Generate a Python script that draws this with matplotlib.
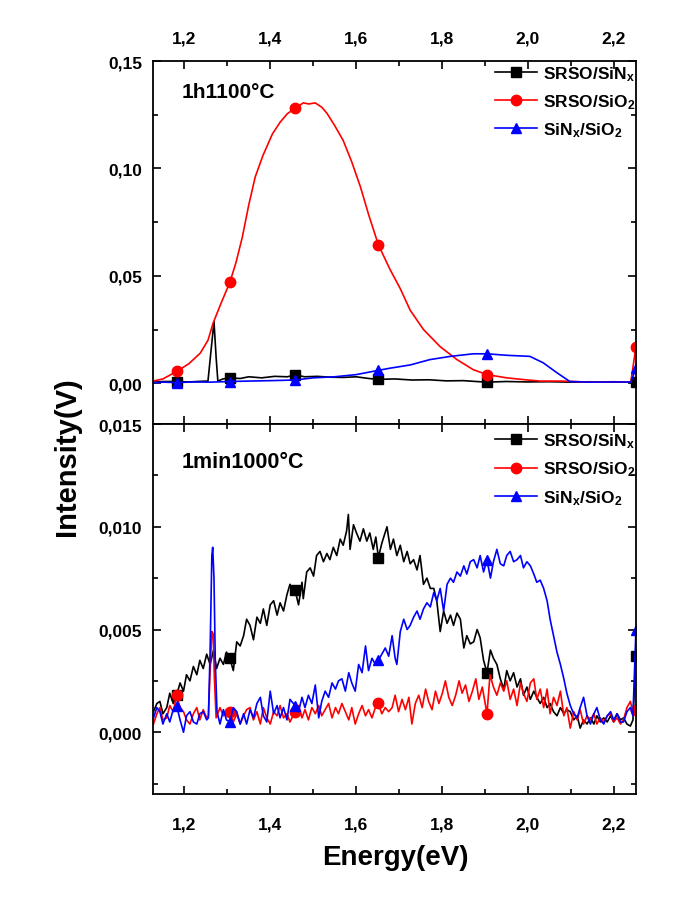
import numpy as np
import matplotlib
matplotlib.use("Agg")
import matplotlib.pyplot as plt
from matplotlib.ticker import MultipleLocator, FuncFormatter

plt.rcParams['font.family'] = ['Liberation Sans', 'DejaVu Sans']
plt.rcParams['font.weight'] = 'bold'
plt.rcParams['mathtext.fontset'] = 'custom'
plt.rcParams['mathtext.rm'] = 'Liberation Sans:bold'
plt.rcParams['mathtext.it'] = 'Liberation Sans:bold'
plt.rcParams['mathtext.bf'] = 'Liberation Sans:bold'

# ---- data ----
labels = ['SRSO/SiN$_\\mathrm{x}$', 'SRSO/SiO$_\\mathrm{2}$', 'SiN$_\\mathrm{x}$/SiO$_\\mathrm{2}$']
colors = ['black', 'red', 'blue']
markers = ['s', 'o', '^']
marker_E = [1.182, 1.306, 1.458, 1.652, 1.905, 2.252]

# 1h 1100 C (upper panel)
red_1h = [(1.127, 0.0010), (1.150, 0.0020), (1.182, 0.0055), (1.210, 0.0090), (1.237, 0.0140),
          (1.255, 0.0200), (1.267, 0.0280), (1.285, 0.0370), (1.306, 0.0470), (1.320, 0.0560),
          (1.335, 0.0680), (1.350, 0.0830), (1.365, 0.0960), (1.383, 0.1060), (1.405, 0.1160),
          (1.423, 0.1215), (1.440, 0.1255), (1.458, 0.1280), (1.477, 0.1305), (1.490, 0.1300),
          (1.505, 0.1305), (1.520, 0.1285), (1.532, 0.1257), (1.550, 0.1200), (1.570, 0.1130),
          (1.590, 0.1030), (1.610, 0.0915), (1.630, 0.0780), (1.652, 0.0644), (1.679, 0.0530),
          (1.703, 0.0440), (1.726, 0.0340), (1.757, 0.0250), (1.796, 0.0170), (1.835, 0.0110),
          (1.873, 0.0063), (1.905, 0.0040), (1.951, 0.0025), (2.000, 0.0015), (2.029, 0.0010),
          (2.080, 0.0010), (2.146, 0.0005), (2.200, 0.0007), (2.240, 0.0005), (2.252, 0.0170)]
blk_1h = [(1.127, 0.0005), (1.150, 0.0008), (1.182, 0.0008), (1.210, 0.0006), (1.240, 0.0009),
          (1.255, 0.0010), (1.262, 0.0150), (1.269, 0.0287), (1.274, 0.0120), (1.278, 0.0010),
          (1.290, 0.0020), (1.306, 0.0025), (1.330, 0.0022), (1.350, 0.0030), (1.380, 0.0025),
          (1.410, 0.0032), (1.440, 0.0030), (1.458, 0.0039), (1.480, 0.0030), (1.510, 0.0032),
          (1.540, 0.0028), (1.570, 0.0027), (1.600, 0.0030), (1.630, 0.0022), (1.652, 0.0018),
          (1.690, 0.0020), (1.730, 0.0015), (1.770, 0.0016), (1.810, 0.0011), (1.850, 0.0012),
          (1.880, 0.0008), (1.905, 0.0005), (1.950, 0.0008), (2.000, 0.0006), (2.050, 0.0007),
          (2.100, 0.0005), (2.150, 0.0006), (2.200, 0.0005), (2.252, 0.0005)]
blu_1h = [(1.127, 0.0002), (1.150, 0.0005), (1.182, 0.0003), (1.220, 0.0006), (1.260, 0.0005),
          (1.306, 0.0008), (1.350, 0.0010), (1.400, 0.0012), (1.458, 0.0015), (1.500, 0.0025),
          (1.550, 0.0030), (1.600, 0.0040), (1.652, 0.0060), (1.679, 0.0070), (1.726, 0.0085),
          (1.772, 0.0110), (1.820, 0.0125), (1.873, 0.0137), (1.905, 0.0137), (1.951, 0.0130),
          (2.005, 0.0125), (2.036, 0.0095), (2.067, 0.0050), (2.098, 0.0008), (2.146, 0.0005),
          (2.200, 0.0006), (2.240, 0.0005), (2.252, 0.0070)]

# 1 min 1000 C (lower panel)
blk_1min = [(1.128, 0.0010), (1.136, 0.0014), (1.143, 0.0015), (1.150, 0.0009), (1.159, 0.0012),
            (1.166, 0.0019), (1.174, 0.0014), (1.182, 0.0018), (1.190, 0.0024), (1.198, 0.0020),
            (1.205, 0.0028), (1.213, 0.0025), (1.221, 0.0032), (1.229, 0.0028), (1.236, 0.0035),
            (1.244, 0.0031), (1.252, 0.0038), (1.260, 0.0033), (1.268, 0.0040), (1.275, 0.0031),
            (1.283, 0.0036), (1.291, 0.0033), (1.298, 0.0039), (1.306, 0.0036), (1.314, 0.0030),
            (1.322, 0.0044), (1.330, 0.0042), (1.338, 0.0047), (1.345, 0.0055), (1.353, 0.0052),
            (1.361, 0.0045), (1.369, 0.0056), (1.377, 0.0053), (1.384, 0.0060), (1.392, 0.0052),
            (1.400, 0.0062), (1.408, 0.0064), (1.416, 0.0057), (1.423, 0.0063), (1.431, 0.0059),
            (1.439, 0.0067), (1.446, 0.0072), (1.454, 0.0068), (1.458, 0.0069), (1.466, 0.0062),
            (1.474, 0.0073), (1.477, 0.0065), (1.485, 0.0078), (1.493, 0.0080), (1.501, 0.0076),
            (1.508, 0.0086), (1.516, 0.0088), (1.524, 0.0083), (1.532, 0.0087), (1.539, 0.0084),
            (1.547, 0.0090), (1.555, 0.0086), (1.563, 0.0094), (1.570, 0.0091), (1.578, 0.0098),
            (1.582, 0.0106), (1.586, 0.0089), (1.594, 0.0101), (1.601, 0.0097), (1.609, 0.0093),
            (1.617, 0.0099), (1.625, 0.0093), (1.632, 0.0097), (1.640, 0.0089), (1.646, 0.0095),
            (1.652, 0.0085), (1.660, 0.0092), (1.672, 0.0100), (1.680, 0.0089), (1.687, 0.0094),
            (1.695, 0.0086), (1.703, 0.0091), (1.711, 0.0083), (1.719, 0.0088), (1.726, 0.0082),
            (1.734, 0.0084), (1.742, 0.0079), (1.749, 0.0086), (1.757, 0.0072), (1.765, 0.0075),
            (1.773, 0.0070), (1.781, 0.0070), (1.788, 0.0064), (1.796, 0.0049), (1.804, 0.0059),
            (1.812, 0.0053), (1.820, 0.0057), (1.827, 0.0052), (1.835, 0.0058), (1.843, 0.0055),
            (1.851, 0.0041), (1.858, 0.0047), (1.866, 0.0043), (1.874, 0.0044), (1.882, 0.0050),
            (1.889, 0.0046), (1.897, 0.0035), (1.905, 0.0029), (1.913, 0.0040), (1.920, 0.0036),
            (1.928, 0.0033), (1.936, 0.0026), (1.944, 0.0021), (1.951, 0.0030), (1.959, 0.0025),
            (1.967, 0.0029), (1.975, 0.0022), (1.983, 0.0026), (1.990, 0.0018), (1.998, 0.0022),
            (2.006, 0.0016), (2.014, 0.0020), (2.021, 0.0017), (2.029, 0.0014), (2.037, 0.0017),
            (2.045, 0.0012), (2.052, 0.0014), (2.060, 0.0010), (2.068, 0.0008), (2.076, 0.0012),
            (2.084, 0.0009), (2.091, 0.0011), (2.099, 0.0010), (2.107, 0.0006), (2.115, 0.0008),
            (2.122, 0.0002), (2.130, 0.0006), (2.138, 0.0004), (2.146, 0.0007), (2.154, 0.0004),
            (2.161, 0.0008), (2.169, 0.0005), (2.177, 0.0007), (2.185, 0.0005), (2.193, 0.0008),
            (2.200, 0.0005), (2.208, 0.0009), (2.216, 0.0006), (2.223, 0.0007), (2.231, 0.0004),
            (2.239, 0.0003), (2.245, 0.0006), (2.252, 0.0037)]
red_1min = [(1.128, 0.0004), (1.136, 0.0009), (1.143, 0.0012), (1.150, 0.0006), (1.159, 0.0007),
            (1.166, 0.0013), (1.174, 0.0010), (1.182, 0.0018), (1.190, 0.0012), (1.198, 0.0010),
            (1.205, 0.0006), (1.213, 0.0004), (1.221, 0.0009), (1.229, 0.0012), (1.236, 0.0006),
            (1.244, 0.0011), (1.252, 0.0007), (1.256, 0.0008), (1.260, 0.0030), (1.264, 0.0049),
            (1.267, 0.0048), (1.270, 0.0026), (1.274, 0.0007), (1.283, 0.0012), (1.291, 0.0008),
            (1.298, 0.0011), (1.306, 0.0010), (1.314, 0.0005), (1.322, 0.0009), (1.330, 0.0004),
            (1.338, 0.0008), (1.345, 0.0011), (1.353, 0.0012), (1.361, 0.0006), (1.369, 0.0010),
            (1.377, 0.0004), (1.384, 0.0012), (1.392, 0.0007), (1.400, 0.0004), (1.408, 0.0010),
            (1.416, 0.0008), (1.423, 0.0013), (1.431, 0.0007), (1.439, 0.0009), (1.446, 0.0005),
            (1.458, 0.0010), (1.466, 0.0013), (1.474, 0.0007), (1.481, 0.0011), (1.489, 0.0006),
            (1.497, 0.0012), (1.505, 0.0009), (1.513, 0.0013), (1.520, 0.0008), (1.528, 0.0011),
            (1.536, 0.0014), (1.544, 0.0007), (1.552, 0.0012), (1.559, 0.0009), (1.567, 0.0014),
            (1.575, 0.0010), (1.583, 0.0006), (1.590, 0.0012), (1.598, 0.0004), (1.606, 0.0009),
            (1.614, 0.0013), (1.622, 0.0008), (1.629, 0.0011), (1.637, 0.0007), (1.645, 0.0012),
            (1.652, 0.0014), (1.660, 0.0009), (1.668, 0.0012), (1.676, 0.0010), (1.684, 0.0012),
            (1.691, 0.0018), (1.699, 0.0010), (1.707, 0.0016), (1.715, 0.0011), (1.723, 0.0017),
            (1.730, 0.0004), (1.738, 0.0014), (1.746, 0.0018), (1.754, 0.0012), (1.762, 0.0021),
            (1.769, 0.0015), (1.777, 0.0011), (1.785, 0.0020), (1.793, 0.0014), (1.801, 0.0019),
            (1.808, 0.0025), (1.816, 0.0017), (1.824, 0.0013), (1.832, 0.0018), (1.840, 0.0025),
            (1.847, 0.0019), (1.855, 0.0023), (1.863, 0.0015), (1.871, 0.0020), (1.879, 0.0026),
            (1.886, 0.0016), (1.894, 0.0022), (1.905, 0.0009), (1.912, 0.0028), (1.920, 0.0022),
            (1.928, 0.0018), (1.936, 0.0024), (1.944, 0.0020), (1.951, 0.0025), (1.959, 0.0016),
            (1.967, 0.0021), (1.975, 0.0013), (1.983, 0.0024), (1.990, 0.0019), (1.998, 0.0015),
            (2.006, 0.0024), (2.014, 0.0026), (2.021, 0.0016), (2.029, 0.0021), (2.037, 0.0012),
            (2.045, 0.0021), (2.052, 0.0009), (2.060, 0.0017), (2.068, 0.0013), (2.076, 0.0020),
            (2.084, 0.0008), (2.091, 0.0012), (2.099, 0.0002), (2.107, 0.0010), (2.115, 0.0006),
            (2.122, 0.0011), (2.130, 0.0004), (2.138, 0.0008), (2.146, 0.0006), (2.154, 0.0009),
            (2.161, 0.0004), (2.169, 0.0007), (2.177, 0.0005), (2.185, 0.0008), (2.193, 0.0009),
            (2.200, 0.0005), (2.208, 0.0007), (2.216, 0.0004), (2.223, 0.0006), (2.231, 0.0012),
            (2.239, 0.0015), (2.245, 0.0010), (2.252, 0.0011)]
blu_1min = [(1.128, 0.0007), (1.136, 0.0012), (1.143, 0.0010), (1.150, 0.0004), (1.159, 0.0009),
            (1.166, 0.0005), (1.174, 0.0011), (1.182, 0.0013), (1.190, 0.0006), (1.198, 0.0000),
            (1.205, 0.0008), (1.213, 0.0010), (1.221, 0.0005), (1.229, 0.0004), (1.236, 0.0009),
            (1.244, 0.0010), (1.252, 0.0006), (1.256, 0.0007), (1.260, 0.0040), (1.264, 0.0086),
            (1.266, 0.0090), (1.269, 0.0075), (1.272, 0.0035), (1.276, 0.0010), (1.283, 0.0004),
            (1.291, 0.0011), (1.298, 0.0006), (1.306, 0.0005), (1.314, 0.0012), (1.322, 0.0010),
            (1.330, 0.0004), (1.338, 0.0009), (1.345, 0.0004), (1.353, 0.0011), (1.361, 0.0007),
            (1.369, 0.0014), (1.377, 0.0017), (1.384, 0.0008), (1.392, 0.0005), (1.400, 0.0020),
            (1.408, 0.0009), (1.416, 0.0013), (1.423, 0.0007), (1.431, 0.0012), (1.439, 0.0006),
            (1.446, 0.0016), (1.458, 0.0013), (1.466, 0.0010), (1.474, 0.0017), (1.481, 0.0012),
            (1.489, 0.0018), (1.497, 0.0014), (1.505, 0.0023), (1.513, 0.0007), (1.520, 0.0015),
            (1.528, 0.0020), (1.536, 0.0017), (1.544, 0.0024), (1.552, 0.0021), (1.559, 0.0025),
            (1.567, 0.0026), (1.575, 0.0020), (1.583, 0.0029), (1.590, 0.0024), (1.598, 0.0020),
            (1.606, 0.0033), (1.614, 0.0029), (1.622, 0.0042), (1.629, 0.0030), (1.637, 0.0036),
            (1.645, 0.0033), (1.652, 0.0035), (1.660, 0.0038), (1.668, 0.0041), (1.676, 0.0037),
            (1.684, 0.0047), (1.691, 0.0036), (1.695, 0.0033), (1.703, 0.0049), (1.711, 0.0055),
            (1.719, 0.0050), (1.726, 0.0052), (1.734, 0.0056), (1.742, 0.0059), (1.749, 0.0055),
            (1.757, 0.0060), (1.765, 0.0063), (1.773, 0.0061), (1.781, 0.0068), (1.788, 0.0064),
            (1.796, 0.0070), (1.804, 0.0059), (1.812, 0.0072), (1.820, 0.0075), (1.827, 0.0073),
            (1.835, 0.0078), (1.843, 0.0076), (1.851, 0.0081), (1.858, 0.0077), (1.866, 0.0083),
            (1.874, 0.0084), (1.882, 0.0080), (1.889, 0.0086), (1.897, 0.0078), (1.905, 0.0084),
            (1.913, 0.0075), (1.920, 0.0083), (1.928, 0.0089), (1.936, 0.0082), (1.944, 0.0081),
            (1.951, 0.0086), (1.959, 0.0088), (1.967, 0.0083), (1.975, 0.0084), (1.983, 0.0086),
            (1.990, 0.0080), (1.998, 0.0083), (2.006, 0.0081), (2.014, 0.0077), (2.021, 0.0073),
            (2.029, 0.0074), (2.037, 0.0070), (2.045, 0.0064), (2.052, 0.0055), (2.060, 0.0047),
            (2.068, 0.0039), (2.076, 0.0033), (2.084, 0.0026), (2.091, 0.0019), (2.099, 0.0013),
            (2.107, 0.0009), (2.115, 0.0007), (2.122, 0.0012), (2.130, 0.0017), (2.138, 0.0008),
            (2.146, 0.0004), (2.154, 0.0009), (2.161, 0.0012), (2.169, 0.0006), (2.177, 0.0004),
            (2.185, 0.0008), (2.193, 0.0010), (2.200, 0.0006), (2.208, 0.0009), (2.216, 0.0005),
            (2.223, 0.0005), (2.231, 0.0010), (2.239, 0.0012), (2.245, 0.0008), (2.252, 0.0050)]

top_series = [blk_1h, red_1h, blu_1h]
bot_series = [blk_1min, red_1min, blu_1min]


def draw(ax, series):
    for pts, c, m, lab in zip(series, colors, markers, labels):
        e, v = np.array(pts).T
        idx = [int(np.argmin(np.abs(e - me))) for me in marker_E]
        ax.plot(e, v, color=c, lw=1.2, marker=m, ms=7.5, markevery=idx,
                label=lab, clip_on=True)


def comma(fmt):
    return FuncFormatter(lambda v, p: (fmt % v).replace('.', ','))


fig = plt.figure(figsize=(6.85, 9.2), dpi=100)
ax1 = fig.add_axes([0.2234, 0.538, 0.705, 0.3946])
ax2 = fig.add_axes([0.2234, 0.136, 0.705, 0.402])

draw(ax1, top_series)
draw(ax2, bot_series)

for ax in (ax1, ax2):
    ax.set_xlim(1.127, 2.252)
    ax.xaxis.set_major_locator(MultipleLocator(0.2))
    ax.xaxis.set_minor_locator(MultipleLocator(0.1))
    ax.xaxis.set_major_formatter(comma('%.1f'))
    ax.tick_params(which='both', direction='in', top=True, right=True,
                   labelsize=12.5, width=1.2, pad=8)
    ax.tick_params(which='major', length=6)
    ax.tick_params(which='minor', length=3.5)
    for s in ax.spines.values():
        s.set_linewidth(1.3)
    for t in ax.get_xticklabels() + ax.get_yticklabels():
        t.set_fontweight('bold')

ax1.set_ylim(-0.019, 0.15)
ax1.yaxis.set_major_locator(MultipleLocator(0.05))
ax1.yaxis.set_minor_locator(MultipleLocator(0.025))
ax1.yaxis.set_major_formatter(comma('%.2f'))
ax1.tick_params(labelbottom=False, labeltop=True)
ax1.tick_params(axis='x', pad=11)

ax2.set_ylim(-0.003, 0.015)
ax2.yaxis.set_major_locator(MultipleLocator(0.005))
ax2.yaxis.set_minor_locator(MultipleLocator(0.0025))
ax2.yaxis.set_major_formatter(comma('%.3f'))
ax2.tick_params(axis='x', pad=16)

ax1.text(0.06, 0.915, '1h1100°C', transform=ax1.transAxes, fontsize=15,
         fontweight='bold', va='center')
ax2.text(0.06, 0.90, '1min1000°C', transform=ax2.transAxes, fontsize=15.5,
         fontweight='bold', va='center')

leg_kw = dict(loc='upper left', frameon=False, fontsize=12.5, handlelength=2.4,
              handletextpad=0.35, labelspacing=0.55, borderpad=0, borderaxespad=0,
              numpoints=1)
ax1.legend(bbox_to_anchor=(0.708, 0.992), **leg_kw)
ax2.legend(bbox_to_anchor=(0.708, 0.98), **leg_kw)

fig.text(0.098, 0.504, 'Intensity(V)', rotation=90, ha='center', va='center',
         fontsize=21, fontweight='bold')
fig.text(0.577, 0.067, 'Energy(eV)', ha='center', va='center',
         fontsize=20, fontweight='bold')

fig.savefig('out.png', dpi=100)
